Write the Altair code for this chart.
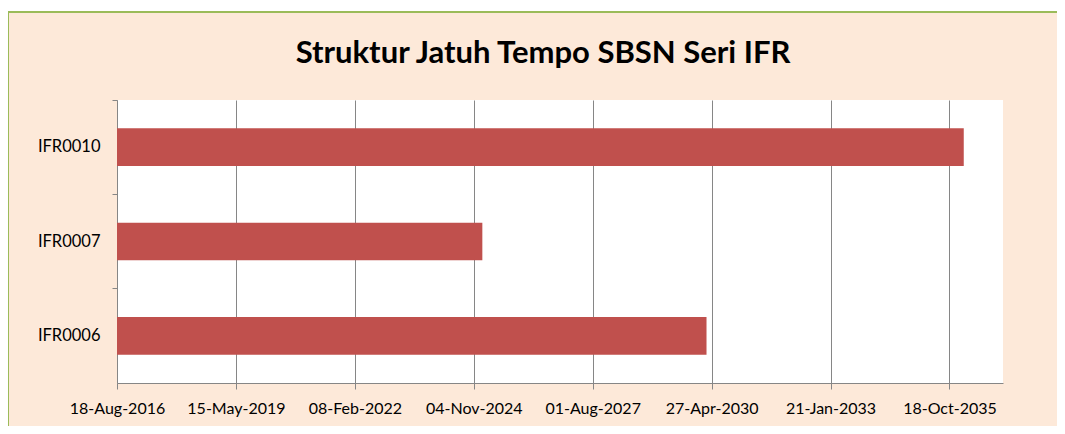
import altair as alt
import pandas as pd

# ---- data ----
series = ["IFR0006", "IFR0007", "IFR0010"]
maturity = ["2030-03-15", "2025-01-15", "2036-02-15"]
axis_start = "2016-08-18"
axis_end_serial = 50050
tick_labels = ["18-Aug-2016", "15-May-2019", "08-Feb-2022", "04-Nov-2024",
               "01-Aug-2027", "27-Apr-2030", "21-Jan-2033", "18-Oct-2035"]
category_order = ["IFR0010", "IFR0007", "IFR0006"]
title_text = "Struktur Jatuh Tempo SBSN Seri IFR"

EPOCH = pd.Timestamp("1899-12-30")


def serial(d):
    return int((pd.Timestamp(d) - EPOCH).days)


start_serial = serial(axis_start)
tick_values = [serial(pd.to_datetime(t, format="%d-%b-%Y")) for t in tick_labels]

df = pd.DataFrame({
    "Seri": series,
    "start": [start_serial] * len(series),
    "end": [serial(m) for m in maturity],
})

FONT = "Lato"
W, H = 886, 283
PAD = {"left": 109, "top": 92, "right": 54, "bottom": 43}

x_scale = alt.Scale(domain=[start_serial, axis_end_serial], zero=False, nice=False)

bars = alt.Chart(df).mark_bar(color="#C0504D").encode(
    x=alt.X("start:Q", scale=x_scale,
            axis=alt.Axis(values=tick_values,
                          labelExpr="utcFormat((datum.value - 25569) * 86400000, '%d-%b-%Y')",
                          title=None, grid=True, gridColor="#868686", gridWidth=1,
                          domainColor="#868686", tickColor="#868686", tickSize=6,
                          labelFont=FONT, labelFontSize=16, labelColor="#000000",
                          labelPadding=11, labelFlush=False, labelOverlap=False)),
    x2="end:Q",
    y=alt.Y("Seri:N", sort=category_order,
            scale=alt.Scale(paddingInner=0.6, paddingOuter=0.3),
            axis=alt.Axis(title=None, domainColor="#868686", tickColor="#868686",
                          tickSize=5, bandPosition=-0.75,
                          labelFont=FONT, labelFontSize=16.5, labelColor="#000000",
                          labelPadding=12)),
)

one = pd.DataFrame({"title": [title_text]})

# white strip above the chart frame (page margin look) and the green frame
strip = alt.Chart(one).mark_rect(color="#FFFFFF").encode(
    x=alt.value(-PAD["left"]), x2=alt.value(W + PAD["right"]),
    y=alt.value(-PAD["top"]), y2=alt.value(-PAD["top"] + 4),
)
frame = alt.Chart(one).mark_rect(fill=None, stroke="#9BBB59", strokeWidth=2).encode(
    x=alt.value(-PAD["left"]), x2=alt.value(W + PAD["right"] + 10),
    y=alt.value(-PAD["top"] + 4), y2=alt.value(H + PAD["bottom"] + 10),
)
title = alt.Chart(one).mark_text(font=FONT, fontSize=31, fontWeight="bold",
                                 color="#000000", align="center",
                                 baseline="alphabetic").encode(
    text="title:N", x=alt.value(426), y=alt.value(-37),
)

chart = alt.layer(bars, strip, frame, title).properties(
    width=W, height=H,
    autosize=alt.AutoSizeParams(type="none"),
    padding=PAD,
    background="#FDE9D9",
).configure_view(fill="#FFFFFF", stroke=None)

chart.save("out.html", embed_options={"renderer": "svg", "actions": False})
